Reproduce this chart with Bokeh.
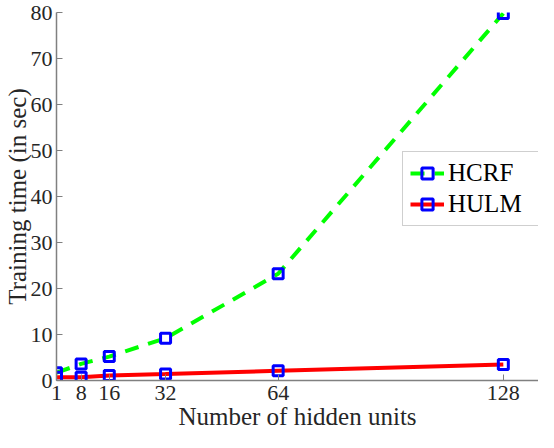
from bokeh.plotting import figure
from bokeh.models import Range1d, FixedTicker, Legend, LegendItem
from bokeh.embed import file_html
from bokeh.resources import INLINE

# hidden units vs training time (sec)
hidden_units = [1, 8, 16, 32, 64, 128]
hcrf_time = [1.7, 3.6, 5.2, 9.2, 23.2, 79.8]
hulm_time = [0.7, 0.7, 1.1, 1.4, 2.1, 3.5]
x_ticks = [1, 8, 16, 32, 64, 128]
y_ticks = [0, 10, 20, 30, 40, 50, 60, 70, 80]

FONT = "Times New Roman"

p = figure(width=538, height=432, output_backend="svg", toolbar_location=None,
           x_range=Range1d(1, 138), y_range=Range1d(0, 80),
           min_border_top=12, min_border_right=0, min_border_left=44, min_border_bottom=40)
p.outline_line_color = None
p.xgrid.visible = False
p.ygrid.visible = False

hcrf_line = p.line(hidden_units, hcrf_time, line_color="#00ff00", line_width=4, line_dash="14 10")
hcrf_pts = p.scatter(hidden_units, hcrf_time, marker="square", size=10, line_color="#0000ff",
                     line_width=3, fill_alpha=0)
hulm_line = p.line(hidden_units, hulm_time, line_color="#ff0000", line_width=4)
hulm_pts = p.scatter(hidden_units, hulm_time, marker="square", size=10, line_color="#0000ff",
                     line_width=3, fill_alpha=0)

for ax in (p.xaxis[0], p.yaxis[0]):
    ax.axis_line_color = "#808080"
    ax.axis_line_width = 1.5
    ax.major_tick_line_color = "#808080"
    ax.major_tick_in = 6
    ax.major_tick_out = 0
    ax.minor_tick_line_color = None
    ax.major_label_text_font = FONT
    ax.major_label_text_font_size = "22px"
    ax.major_label_text_color = "#262626"
    ax.axis_label_text_font = FONT
    ax.axis_label_text_font_size = "25px"
    ax.axis_label_text_font_style = "normal"
    ax.axis_label_text_color = "#262626"

p.xaxis.ticker = FixedTicker(ticks=x_ticks)
p.yaxis.ticker = FixedTicker(ticks=y_ticks)
p.xaxis.axis_label = "Number of hidden units"
p.yaxis.axis_label = "Training time (in sec)"
p.xaxis.major_label_standoff = 5
p.yaxis.major_label_standoff = 4
p.xaxis.axis_label_standoff = 0
p.yaxis.axis_label_standoff = -3

legend = Legend(items=[
    LegendItem(label="HCRF", renderers=[hcrf_line, hcrf_pts]),
    LegendItem(label="HULM", renderers=[hulm_line, hulm_pts]),
], location=(346, 154))
legend.label_text_font = FONT
legend.label_text_font_size = "25px"
legend.label_text_color = "#000000"
legend.border_line_color = "#a0a0a0"
legend.border_line_width = 1.5
legend.padding = 7
legend.spacing = 3
legend.glyph_width = 34
legend.glyph_height = 28
legend.label_height = 28
legend.label_width = 86
legend.label_standoff = 4
legend.margin = 0
p.add_layout(legend, "center")

open("out.html", "w").write(file_html(p, INLINE))
